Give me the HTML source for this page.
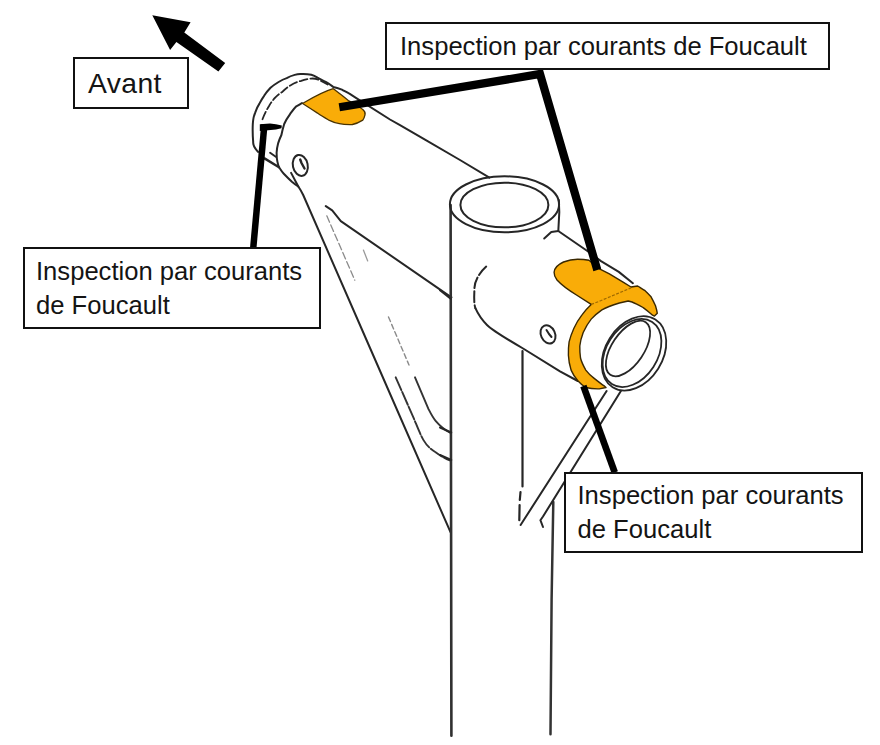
<!DOCTYPE html>
<html><head><meta charset="utf-8">
<style>
html,body{margin:0;padding:0;background:#fff;}
body{width:880px;height:745px;position:relative;overflow:hidden;font-family:"Liberation Sans",sans-serif;}
svg{position:absolute;left:0;top:0;}
.box{position:absolute;border:2px solid #111;background:#fff;box-sizing:border-box;color:#111;}
.t{position:absolute;white-space:nowrap;font-size:25.6px;line-height:34px;color:#141414;}
</style></head><body>
<svg width="880" height="745" viewBox="0 0 880 745">
<g fill="none" stroke="#262626" stroke-width="2" stroke-linecap="round" stroke-linejoin="round">
  <!-- left cap outer curve -->
  <path d="M258 151.9 C254.5 148 253 144 253.2 142.2 C252.6 135 252.6 128 252.8 124 C253.2 118 254 115 255.2 112.7 C256.5 109 257.8 106 259.3 103.9 C261 100.5 262.5 98 264.1 95.8 C266 92.5 268.3 90 270.5 87.7 C273 85.5 276 83.6 278.6 82 C281 80.5 284 79 286.7 78.1 C289 76.8 292 75.6 294.7 74.9 C297 74.3 298.5 74.1 300.3 74 C304 73.8 309 74.2 311.3 74.7 C313.5 75.3 315.5 76.3 317.5 77.6 C320.5 79.2 323.5 80.6 326.2 82.2 C328.5 83.5 331 85.2 333.2 86.9 C336 87.5 339 88.5 341.9 89.6 C344.5 91 347 92.5 349.8 93.9 L356.7 98.3 L390 119.5 L400 125.1 L425 139.7 L460 160 L489.4 177.6"/>
  <!-- dashed inner curve of cap -->
  <path d="M262.5 119.2 C264.5 114 266.5 110 268.9 106.3 C271 102.5 273 100 275.4 97.4 C277.5 95.3 279.5 93.5 281.8 92.3 C284.5 89.5 287.5 87 290.7 85.2 C294 83.2 297.5 81.7 301.2 80.8 C304 79.8 307.5 79 311 78.6 C316 78 321 80.5 327.7 84.6" stroke-dasharray="8 3" stroke-width="1.8"/>
  <!-- tube end edge -->
  <path d="M302 103 C300 104.5 298 105.5 296.3 106.3 C294 108.5 292 111.5 289.9 114.3 C287.5 117.5 285.5 121 284.2 124 C283 128 282 132 281.4 135 C280 138 279 140.5 278.2 143.1 C277.3 146.5 276.8 149.5 276.6 152.7 C276.6 156 276.8 159 277.4 161.6 C277.8 163.5 278.3 165.5 279 167.2 C280.5 169.5 282 171.8 283.8 173.7 C286.3 176.3 289 179 291.9 181.7 C294 183.5 296 185 298.3 186.5 C300 189 301.8 192 303.2 195 L370.9 350 L450.5 532.2"/>
  <path d="M264.5 158.4 L279 167.2" stroke-width="2.4"/>
  <path d="M270.1 152.7 L275.8 156.7"/>
  <path d="M291.1 172.9 L298.3 186.5"/>
  <!-- bolt left -->
  <ellipse cx="300.3" cy="165.4" rx="7.4" ry="10.6" transform="rotate(-12 300.3 165.4)"/>
  <path d="M300.2 159.5 L301.5 163 L304.5 168.5" stroke-width="2.4"/>
  <!-- gusset inner line (tube lower edge) -->
  <path d="M325.8 206.1 L332.2 210.4 L340.8 221.1 L451.4 297.4"/>
  <!-- faint dashed -->
  <path d="M326.8 215.8 L354.8 280.2" stroke="#8a8a8a" stroke-width="1.3" stroke-dasharray="7 3"/>
  <path d="M363.4 250.1 L367.7 260.9" stroke="#9a9a9a" stroke-width="1.3"/>
  <path d="M388.5 317 L409 365" stroke="#8a8a8a" stroke-width="1.4" stroke-dasharray="5 3"/>
  <path d="M415 377.3 L428.3 408.7 C431 414 433 418 435.6 420.8 C440 426 445 430 450.5 433" stroke="#333" stroke-width="1.9"/>
  <path d="M395.7 377.3 L413.8 418.4 C417 426 420 434 423.5 440.1 C427 446 431 449.5 435.6 452.2 C440 455.5 445 458.5 450.5 460.6" stroke="#333" stroke-width="1.9" stroke-dasharray="14 2"/>
  <!-- post -->
  <path d="M450.6 205 L451.4 735.8" stroke-width="2.6" stroke="#303030"/>
  <ellipse cx="504.5" cy="204.3" rx="54.6" ry="28"/>
  <ellipse cx="504.4" cy="205" rx="44" ry="22.3"/>
  <path d="M558.8 200 L559.3 212.2 L558.3 231 L551.3 232 L544.2 238.5"/>
  <path d="M558.3 231 L587 250.8 L601 261.1 L618.8 271.9 L632.9 283.2"/>
  <path d="M440 290.2 L450.7 298.8"/>
  <!-- dashed arc -->
  <path d="M486.2 266.6 C478 274 474 283 474.4 290.2 C474 298 474 304 475.4 308.2" stroke-dasharray="11 3"/>
  <path d="M475.4 308.2 C478 314 482 320 487 325 C492 330 505 338 523.1 348.5 L560 371.3 L577.8 381"/>
  <!-- post right lower -->
  <path d="M522.5 351 L522.5 486.4 M520.5 492 L519.8 500 M519.6 505 L519.3 520.2" stroke-width="2.2"/>
  <path d="M553.3 502 L551.6 600 L550.5 734.3" stroke-width="2.5" stroke="#333"/>
  <!-- braces -->
  <path d="M606.6 391 L520.6 525"/>
  <path d="M620.9 391 L543 516.5 L540.4 520.2 L543 527"/>
  
  <!-- bolt right -->
  <ellipse cx="548" cy="334.4" rx="7" ry="9.5" transform="rotate(-25 548 334.4)"/>
  <path d="M546.5 330 L549 334 L551.5 337"/>
  <!-- left lines at post -->
  <path d="M440 427.5 L451.25 432.5"/>
  <path d="M440 455 L451.25 460"/>
</g>
<!-- orange patches -->
<path d="M302.6 103.5 C312 98 322 92 333.2 88.7 C338 92 343 96.5 348.9 100.9 C354 104 359 106.5 362.8 109.6 C364.5 111 365.5 113 365 114.9 C364.5 117 363.8 118.8 362.8 120.1 C359 122.5 356 123.8 352.4 124.5 C348 124.6 343 124.4 339.3 123.6 C335 122.8 331.5 121.5 328.8 120.1 C325 118 321 115.8 317.5 113.1 C312 109.5 307 106.3 302.6 103.5 Z" fill="#F9AC08" stroke="#4a3300" stroke-width="1.3"/>
<path d="M554.1 272.2 C554.5 268 558 264.5 563.5 262 C568 260.3 573 259.3 577.6 259.2 C582 259.2 586 259.6 588.9 260.2 L600 269.1 L609.4 273.8 L623.5 282.3 L631 287 L637.6 286 C640 287.5 642.5 289 645.1 290.7 C647 292.5 649 294.5 650.8 296.4 C652.5 299.5 654 302.5 655.5 305.8 C656.3 308.5 657 311 657.3 313.3 L654.5 316.1 L652.6 315.2 C649.5 312.5 646.5 310 643.2 307.6 C639.5 305.5 636 303.5 632 302 L628.2 301 L619.4 303 C613 305 607 307 601.9 309.8 C598 312.5 594.5 315.5 591.2 319.1 C588 323 585.5 327.5 583.2 332.5 C581.5 337 580.3 341.5 579.8 346 C579.7 350 580 354 580.5 358 C581.5 362 583.5 366 585.8 370.1 C588 373 590.8 375.8 593.9 378.1 C597.5 381 601 383.8 604.6 386.2 L606 387.5 L599.3 388.9 C595 389 590 388.6 585.8 387.5 C582.5 385.5 580 383.3 577.8 380.8 C575 377.5 572.8 374 571.1 370.1 C569.5 365 568.6 360 568.4 355.3 C568.3 350.5 568.5 346 569.1 341.9 C570.2 337.5 571.8 333 573.8 328.5 C576 323.5 578.8 319 581.8 315.1 C584.5 311.3 587.8 307.5 591.2 304.4 L576.5 295 C570 291 562 285.5 557 280 C555 277.5 554 275 554.1 272.2 Z" fill="#F9AC08" stroke="#3a2800" stroke-width="1.4" stroke-linejoin="round"/>
<path d="M591.2 304.4 L600 301 L631 287.9" fill="none" stroke="#a06a00" stroke-width="1.2" stroke-dasharray="3 1.5"/>
<!-- right ring -->
<g fill="none" stroke="#262626" stroke-width="1.8">
  <ellipse cx="634" cy="353.4" rx="40" ry="28.6" transform="rotate(-57.7 634 353.4)"/>
  <ellipse cx="632" cy="353" rx="37" ry="25.5" transform="rotate(-57 632 353)"/>
  <ellipse cx="628" cy="348.5" rx="31.7" ry="16" transform="rotate(-56 628 348.5)"/>
</g>
<!-- leader lines -->
<g fill="none" stroke="#000" stroke-linejoin="miter" stroke-linecap="butt">
  <path d="M339.3 107.3 L540 74 L597.3 270" stroke-width="8.2"/>
  <path d="M259.8 124.2 L270 123.6 L276 124.3 L281.8 125.6 L281.5 128.3 L276 129.5 L268 130.3 L259.8 131 Z" fill="#000" stroke="none"/>
  <path d="M264.4 124.5 L253.2 248.5" stroke-width="6.5"/>
  <path d="M583.4 386 L614.8 472.5" stroke-width="6.6"/>
</g>
<!-- arrow -->
<path d="M152.3 15.3 L190.6 22.2 L184.3 32.4 L225.2 63.1 L218.4 71.6 L176.4 42 L170.1 50 Z" fill="#000"/>
</svg>
<div class="box" style="left:73.4px;top:56.8px;width:116px;height:52.6px;"></div>
<div class="t" style="left:88px;top:65.5px;font-size:28.3px;letter-spacing:0.4px;">Avant</div>
<div class="box" style="left:385.3px;top:22.4px;width:444.5px;height:48px;"></div>
<div class="t" style="left:400px;top:28.8px;">Inspection par courants de Foucault</div>
<div class="box" style="left:22.6px;top:247.3px;width:298.5px;height:82.2px;"></div>
<div class="t" style="left:36px;top:254.2px;">Inspection par courants<br>de Foucault</div>
<div class="box" style="left:564.2px;top:471.8px;width:298.6px;height:81px;"></div>
<div class="t" style="left:577.5px;top:477.8px;">Inspection par courants<br>de Foucault</div>
</body></html>
